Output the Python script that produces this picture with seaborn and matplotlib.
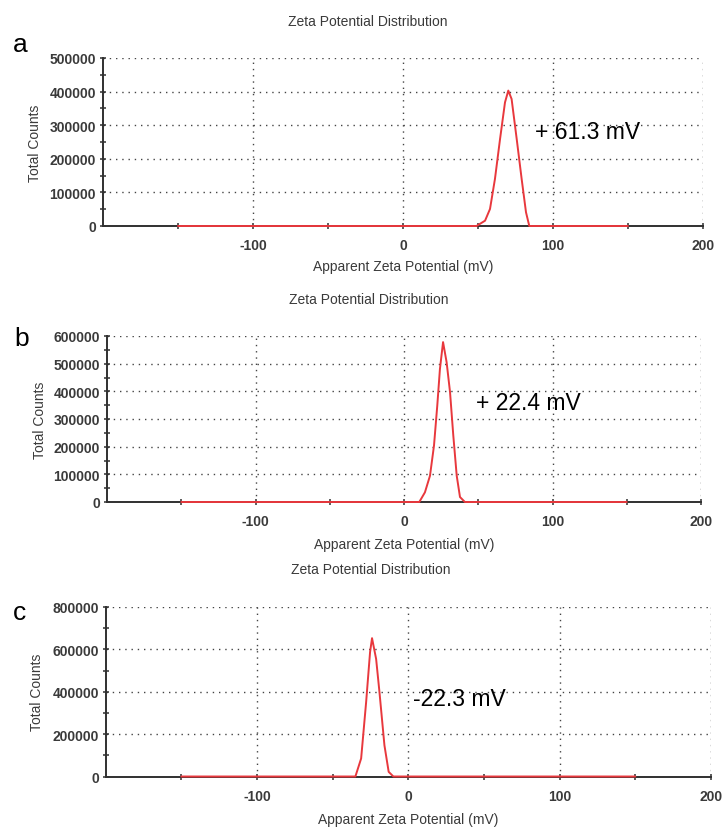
import numpy as np
import pandas as pd
import matplotlib
matplotlib.use("Agg")
import matplotlib.pyplot as plt
from matplotlib.ticker import FixedLocator, FuncFormatter
import seaborn as sns

# ---------------- data ----------------
titles = ["Zeta Potential Distribution"] * 3
panel_letters = ["a", "b", "c"]
annotations = ["+ 61.3 mV", "+ 22.4 mV", "-22.3 mV"]

a_x = [-150, 49, 54.7, 58, 61.3, 64.7, 68, 70.2, 72.4, 75.8, 79.1, 82, 84.2, 150]
a_y = [0, 0, 15800, 50600, 140000, 259000, 368000, 403000, 378000, 259000, 140000, 40800, 0, 0]

b_x = [-150, 10.3, 14.1, 17.5, 20.2, 22.4, 24.2, 26.3, 28.7, 31, 33.2, 35.5, 37.7, 41, 150]
b_y = [0, 0, 35000, 95000, 204000, 348000, 481000, 578000, 505000, 397000, 240000, 95000, 18000, 0, 0]

c_x = [-150, -35, -31.2, -27.9, -25.3, -24, -21.3, -19.1, -15.8, -13, -9.9, 150]
c_y = [0, 0, 85000, 351000, 587000, 653000, 555000, 399000, 147000, 22000, 0, 0]

x_major = [-100, 0, 100, 200]
x_minor = [-150, -50, 50, 150]
y_max = [500000, 600000, 800000]
y_step = [100000, 100000, 200000]
annot_pos = [(88, 282000), (48.5, 361000), (3.3, 370000)]

# ---------------- style ----------------
sns.set_style("white")
plt.rcParams["font.family"] = ["Liberation Sans", "DejaVu Sans"]
plt.rcParams["axes.unicode_minus"] = False

W, H = 724, 829
fig = plt.figure(figsize=(W / 100, H / 100), dpi=100)

# axes boxes in pixels: left, right, top, bottom
boxes = [(103, 703, 59, 227), (107, 701, 337, 503), (105.7, 711, 608, 777.5)]
title_y = [22, 300, 570]
title_x = [368, 369, 371]
letter_pos = [(20, 45), (22, 339), (20, 613)]
ylabel_x = [35, 40, 37]
xlabel_y = [267, 545, 820]

red = "#e8383d"
axc = "#303030"
tick_c = "#3a3a3a"

series = [(a_x, a_y), (b_x, b_y), (c_x, c_y)]

for i, (xs, ys) in enumerate(series):
    l, r, t, b = boxes[i]
    ax = fig.add_axes([l / W, 1 - b / H, (r - l) / W, (b - t) / H])
    df = pd.DataFrame({"mV": xs, "counts": ys})
    sns.lineplot(data=df, x="mV", y="counts", ax=ax, color=red, lw=1.4,
                 sort=False, estimator=None)
    for ln in ax.lines:
        ln.set_clip_on(False)
        ln.set_zorder(6)
    ax.set_xlim(-200, 200)
    ax.set_ylim(0, y_max[i])

    ax.xaxis.set_major_locator(FixedLocator(x_major))
    ax.xaxis.set_minor_locator(FixedLocator(x_minor))
    ymaj = list(np.arange(0, y_max[i] + 1, y_step[i]))
    ymin = list(np.arange(y_step[i] / 2, y_max[i], y_step[i]))
    ax.yaxis.set_major_locator(FixedLocator(ymaj))
    ax.yaxis.set_minor_locator(FixedLocator(ymin))
    ax.yaxis.set_major_formatter(FuncFormatter(lambda v, p: f"{int(v)}"))

    for sp in ["top", "right"]:
        ax.spines[sp].set_visible(False)
    for sp in ["left", "bottom"]:
        ax.spines[sp].set_color(axc)
        ax.spines[sp].set_linewidth(1.4)
        ax.spines[sp].set_zorder(4)

    ax.tick_params(axis="both", which="both", direction="inout", length=5,
                   width=1.1, color=axc, labelcolor=tick_c, labelsize=10,
                   bottom=True, left=True, top=False, right=False)
    ax.tick_params(axis="x", which="both", pad=6.5)
    ax.tick_params(axis="y", which="both", pad=2.5)
    for lab in ax.get_xticklabels() + ax.get_yticklabels():
        lab.set_fontweight("bold")

    ax.grid(True, which="major", color="#444444", linestyle=(0, (1, 3.5)), lw=1.0)
    ax.set_axisbelow(True)

    ax.set_xlabel("Apparent Zeta Potential (mV)", fontsize=10, color=tick_c)
    ax.set_ylabel("Total Counts", fontsize=10, color=tick_c)
    ax.xaxis.set_label_coords(0.5, -(xlabel_y[i] - b) / (b - t))
    ax.xaxis.label.set_va("center")
    ax.yaxis.set_label_coords(-(l - ylabel_x[i]) / (r - l), 0.5)
    ax.yaxis.label.set_va("center")

    ax.text(annot_pos[i][0], annot_pos[i][1], annotations[i], fontsize=16.5,
            color="black", ha="left", va="center", zorder=7)

    fig.text(title_x[i] / W, 1 - title_y[i] / H, titles[i], fontsize=10,
             color=tick_c, ha="center", va="center")
    fig.text(letter_pos[i][0] / W, 1 - letter_pos[i][1] / H, panel_letters[i],
             fontsize=19, color="black", ha="center", va="center")

fig.savefig("out.png", dpi=100, facecolor="white")
